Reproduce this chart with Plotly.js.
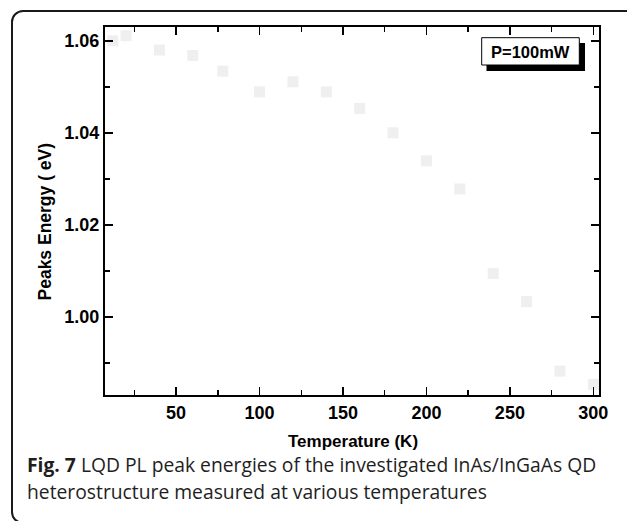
<!DOCTYPE html>
<html>
<head>
<meta charset="utf-8">
<script src="https://cdn.plot.ly/plotly-3.0.1.min.js"></script>
<style>
  html, body { margin: 0; padding: 0; width: 627px; height: 521px; overflow: hidden; background: #fff; }
  #frame { position: absolute; left: 11px; top: 10px; width: 660px; height: 510px;
           border: 2px solid #1a1a1a; border-radius: 12px; box-sizing: content-box; }
  #chart { position: absolute; left: 0; top: 0; width: 627px; height: 521px; }
  .cap { position: absolute; left: 27px; font-family: "Open Sans", sans-serif; font-size: 19.3px;
         color: #1e1e1e; white-space: nowrap; line-height: 22px; }
</style>
</head>
<body>
<div id="frame"></div>
<div id="chart"></div>
<div class="cap" style="top:454px;"><b>Fig. 7</b> LQD PL peak energies of the investigated InAs/InGaAs QD</div>
<div class="cap" style="top:481px;">heterostructure measured at various temperatures</div>
<script>
// Data
const temperatureK = [12, 20, 40, 60, 78, 100, 120, 140, 160, 180, 200, 220, 240, 260, 280, 300];
const peakEnergyEV = [1.0600, 1.0611, 1.0580, 1.0568, 1.0534, 1.0489, 1.0511, 1.0489, 1.0453, 1.0400, 1.0339, 1.0278, 1.0094, 1.0033, 0.9882, 0.9853];
const xTickVals = [50, 100, 150, 200, 250, 300];
const yTickVals = [1.00, 1.02, 1.04, 1.06];
const yTickText = ["1.00", "1.02", "1.04", "1.06"];
const legendText = "P=100mW";

const L = 105, R = 599, T = 27, B = 395;
const px = v => (v - L) / (R - L);
const py = v => (B - v) / (B - T);
const tickFont = {family: "Liberation Sans, Arial, sans-serif", size: 18, color: "#000", weight: "bold"};

const trace = {
  x: temperatureK, y: peakEnergyEV, type: "scatter", mode: "markers",
  marker: {symbol: "square", size: 11, color: "#efefef", line: {width: 0}},
  showlegend: false, hoverinfo: "x+y"
};

const axisCommon = {
  showline: true, linecolor: "#000", linewidth: 2, mirror: "allticks",
  ticks: "inside", ticklen: 8, tickwidth: 1.5, tickcolor: "#000",
  showgrid: false, zeroline: false, tickfont: tickFont
};

const layout = {
  width: 627, height: 521,
  margin: {l: L, r: 627 - R, t: T, b: 521 - B, pad: 0},
  paper_bgcolor: "rgba(0,0,0,0)", plot_bgcolor: "rgba(0,0,0,0)",
  xaxis: Object.assign({}, axisCommon, {
    range: [7.4, 303.4], tickvals: xTickVals,
    minor: {dtick: 25, tick0: 0, ticks: "inside", ticklen: 5, tickwidth: 1.5, tickcolor: "#000"}
  }),
  yaxis: Object.assign({}, axisCommon, {
    range: [0.983, 1.063], tickvals: yTickVals, ticktext: yTickText,
    minor: {dtick: 0.01, tick0: 0, ticks: "inside", ticklen: 5, tickwidth: 1.5, tickcolor: "#000"}
  }),
  shapes: [
    {type: "rect", xref: "paper", yref: "paper", x0: px(486.5), x1: px(585), y0: py(71), y1: py(43),
     fillcolor: "#000", line: {width: 0}},
    {type: "rect", xref: "paper", yref: "paper", x0: px(481.7), x1: px(579.3), y0: py(65), y1: py(37.7),
     fillcolor: "#fff", line: {color: "#000", width: 1}}
  ],
  annotations: [
    {text: legendText, xref: "paper", yref: "paper", x: px(530.5), y: py(51.5), showarrow: false,
     xanchor: "center", yanchor: "middle",
     font: {family: "Liberation Sans, Arial, sans-serif", size: 16.5, color: "#000", weight: "bold"}},
    {text: "Temperature (K)", xref: "paper", yref: "paper", x: px(352.5), y: py(441.5), showarrow: false,
     xanchor: "center", yanchor: "middle",
     font: {family: "Liberation Sans, Arial, sans-serif", size: 17, color: "#000", weight: "bold"}},
    {text: "Peaks Energy ( eV)", xref: "paper", yref: "paper", x: px(44.5), y: py(222), showarrow: false,
     xanchor: "center", yanchor: "middle", textangle: -90,
     font: {family: "Liberation Sans, Arial, sans-serif", size: 17.5, color: "#000", weight: "bold"}}
  ]
};

Plotly.newPlot("chart", [trace], layout, {displayModeBar: false, staticPlot: true});
</script>
</body>
</html>
